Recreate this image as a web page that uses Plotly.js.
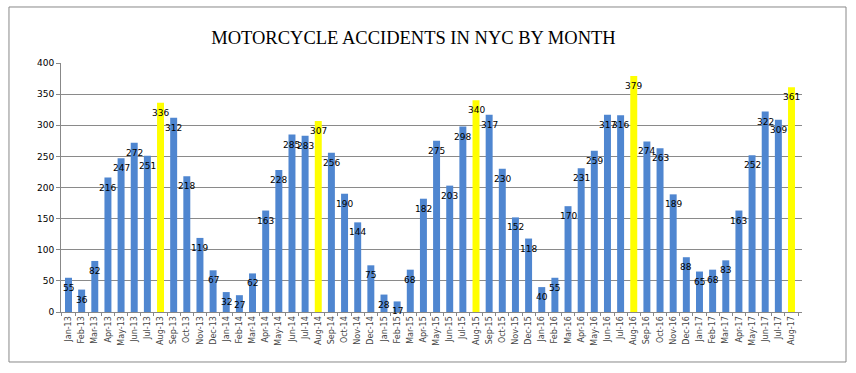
<!DOCTYPE html>
<html>
<head>
<meta charset="utf-8">
<script src="https://cdn.plot.ly/plotly-3.0.1.min.js"></script>
<style>html,body{margin:0;padding:0;background:#fff;}#chart{width:856px;height:373px;}</style>
</head>
<body>
<div id="chart"></div>
<script>
var months = ["Jan-13","Feb-13","Mar-13","Apr-13","May-13","Jun-13","Jul-13","Aug-13","Sep-13","Oct-13","Nov-13","Dec-13",
"Jan-14","Feb-14","Mar-14","Apr-14","May-14","Jun-14","Jul-14","Aug-14","Sep-14","Oct-14","Nov-14","Dec-14",
"Jan-15","Feb-15","Mar-15","Apr-15","May-15","Jun-15","Jul-15","Aug-15","Sep-15","Oct-15","Nov-15","Dec-15",
"Jan-16","Feb-16","Mar-16","Apr-16","May-16","Jun-16","Jul-16","Aug-16","Sep-16","Oct-16","Nov-16","Dec-16",
"Jan-17","Feb-17","Mar-17","Apr-17","May-17","Jun-17","Jul-17","Aug-17"];
var accidents = [55,36,82,216,247,272,251,336,312,218,119,67,
32,27,62,163,228,285,283,307,256,190,144,75,
28,17,68,182,275,203,298,340,317,230,152,118,
40,55,170,231,259,317,316,379,274,263,189,88,
65,68,83,163,252,322,309,361];
var highlightMonths = ["Aug-13","Aug-14","Aug-15","Aug-16","Aug-17"];
var yTicks = [0,50,100,150,200,250,300,350,400];

var BLUE = "#4F86D0", YELLOW = "#FFFF00";
var colors = months.map(function(m){ return highlightMonths.indexOf(m) >= 0 ? YELLOW : BLUE; });

var annotations = months.map(function(m, i){
  return {x: m, y: accidents[i], xref: "x", yref: "y", text: String(accidents[i]),
    showarrow: false, yshift: -10, font: {family: "DejaVu Sans", size: 9, color: "#000"}};
});

var data = [{
  type: "bar", x: months, y: accidents,
  marker: {color: colors, line: {width: 0}},
  hoverinfo: "x+y"
}];

var layout = {
  width: 856, height: 373,
  margin: {l: 61, r: 54, t: 63, b: 61},
  paper_bgcolor: "#fff", plot_bgcolor: "#fff",
  showlegend: false,
  bargap: 0.47,
  title: {text: "MOTORCYCLE ACCIDENTS IN NYC BY MONTH",
    font: {family: "Liberation Serif", size: 18.5, color: "#000"},
    x: 0.483, xanchor: "center", y: 0.9, yanchor: "middle"},
  xaxis: {type: "category", categoryorder: "array", categoryarray: months,
    tickangle: -90, tickfont: {family: "DejaVu Sans", size: 8, color: "#444"},
    showline: true, linecolor: "#888", linewidth: 1,
    ticks: "outside", tickson: "boundaries", ticklen: 3, tickcolor: "#888",
    showgrid: false, zeroline: false, fixedrange: true},
  yaxis: {range: [0, 400], tickvals: yTicks, ticktext: yTicks.map(String),
    tickfont: {family: "DejaVu Sans", size: 9, color: "#000"},
    showline: true, linecolor: "#888", linewidth: 1,
    ticks: "outside", ticklen: 4, tickcolor: "#888",
    showgrid: true, gridcolor: "#8a8a8a", gridwidth: 1,
    zeroline: false, fixedrange: true},
  annotations: annotations,
  shapes: [{type: "rect", xref: "paper", yref: "paper",
    x0: -0.0702, x1: 1.0594, y0: -0.2008, y1: 1.2249,
    line: {color: "#888", width: 1}, fillcolor: "rgba(0,0,0,0)", layer: "below"}]
};

Plotly.newPlot("chart", data, layout, {displayModeBar: false, staticPlot: true});
</script>
</body>
</html>
